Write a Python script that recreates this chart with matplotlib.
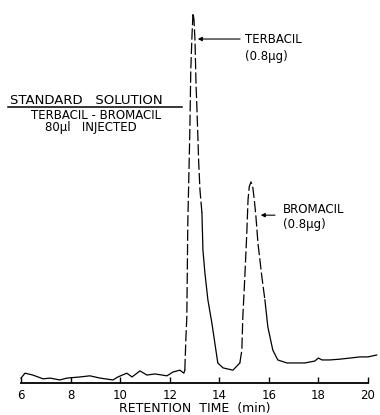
import matplotlib
matplotlib.use("Agg")
import matplotlib.pyplot as plt

# chromatogram trace: retention time (min), detector response (% of full scale)
baseline_t = [6.0, 6.16, 6.48, 6.89, 7.17, 7.57, 7.85, 8.38, 8.78, 9.19, 9.71, 9.91,
              10.27, 10.48, 10.80, 11.08, 11.40, 11.89, 12.13, 12.41, 12.57, 12.61]
baseline_r = [1.3, 2.6, 2.1, 1.1, 1.3, 0.8, 1.3, 1.6, 1.9, 1.3, 0.8, 1.6,
              2.6, 1.6, 3.2, 2.1, 2.4, 1.9, 2.9, 3.4, 2.6, 3.4]

terbacil_t = [12.61, 12.65, 12.69, 12.73, 12.81, 12.85, 12.90, 12.94, 12.98, 13.02,
              13.06, 13.10, 13.14, 13.17, 13.22, 13.30]
terbacil_r = [3.4, 11.4, 17.5, 42.3, 66.1, 82.8, 92.1, 97.9, 96.0, 90.7,
              79.4, 72.2, 64.3, 58.2, 51.1, 45.0]

valley_t = [13.30, 13.34, 13.42, 13.54, 13.70, 13.82, 13.94, 14.15, 14.55, 14.83]
valley_r = [45.0, 35.2, 29.1, 22.0, 15.9, 10.6, 5.3, 4.0, 3.4, 5.3]

bromacil_t = [14.83, 14.91, 14.95, 15.03, 15.11, 15.16, 15.21, 15.28, 15.35, 15.42,
              15.48, 15.56, 15.72, 15.84]
bromacil_r = [5.3, 8.7, 17.5, 28.0, 39.7, 48.5, 52.0, 53.2, 51.9, 48.0,
              43.9, 37.0, 28.0, 22.0]

tail_t = [15.84, 15.96, 16.16, 16.36, 16.73, 17.45, 17.85, 18.0, 18.14,
          18.46, 18.86, 19.27, 19.67, 20.0, 20.35]
tail_r = [22.0, 14.8, 8.7, 6.1, 5.3, 5.3, 5.8, 6.6, 6.1,
          6.1, 6.3, 6.6, 6.9, 6.9, 7.4]

xticks = [6, 8, 10, 12, 14, 16, 18, 20]

# peak labels: (arrow tail x, arrow head x, y)
terb_arrow = (14.95, 13.02, 91.0)
brom_arrow = (16.36, 15.56, 44.4)

fig = plt.figure(figsize=(3.8, 4.15), dpi=100, facecolor="white")
ax = fig.add_axes([21 / 380, 32 / 415, 347 / 380, 378 / 415])

lw = 0.9
ax.plot(baseline_t, baseline_r, color="black", lw=lw, clip_on=False)
ax.plot(terbacil_t, terbacil_r, color="black", lw=lw, dashes=(9, 2.5), clip_on=False)
ax.plot(valley_t, valley_r, color="black", lw=lw, clip_on=False)
ax.plot(bromacil_t, bromacil_r, color="black", lw=lw, dashes=(9, 2.5), clip_on=False)
ax.plot(tail_t, tail_r, color="black", lw=lw, clip_on=False)

ax.set_xlim(6, 20)
ax.set_ylim(0, 100)
for s in ["top", "left", "right"]:
    ax.spines[s].set_visible(False)
ax.spines["bottom"].set_linewidth(1.3)
ax.set_yticks([])
ax.set_xticks(xticks)
ax.set_xticklabels([str(v) for v in xticks], fontsize=8.5)
ax.tick_params(axis="x", direction="in", length=4, width=1, pad=4)
ax.set_xlabel("RETENTION  TIME  (min)", fontsize=9, labelpad=0)

fs = 8.5
arrow = dict(arrowstyle="-|>", color="black", lw=0.8, mutation_scale=6)
ax.annotate("", xy=(terb_arrow[1], terb_arrow[2]), xytext=(terb_arrow[0], terb_arrow[2]),
            arrowprops=arrow)
ax.text(terb_arrow[0] + 0.08, terb_arrow[2], "TERBACIL", fontsize=fs, va="center", ha="left")
ax.text(terb_arrow[0] + 0.1, terb_arrow[2] - 4.5, "(0.8\u03bcg)", fontsize=fs, va="center", ha="left")

ax.annotate("", xy=(brom_arrow[1], brom_arrow[2]), xytext=(brom_arrow[0], brom_arrow[2]),
            arrowprops=arrow, annotation_clip=False)
ax.text(brom_arrow[0] + 0.2, brom_arrow[2] + 1.5, "BROMACIL", fontsize=fs, va="center", ha="left")
ax.text(brom_arrow[0] + 0.2, brom_arrow[2] - 2.6, "(0.8\u03bcg)", fontsize=fs, va="center", ha="left")

# legend block on the left
fig.text(10 / 380, 1 - 100 / 415, "STANDARD   SOLUTION", fontsize=9.5, va="center", ha="left")
fig.add_artist(plt.Line2D([8 / 380, 182 / 380], [1 - 107 / 415, 1 - 107 / 415],
                          color="black", lw=1.1))
fig.text(96 / 380, 1 - 115.5 / 415, "TERBACIL - BROMACIL", fontsize=fs, va="center", ha="center")
fig.text(91 / 380, 1 - 127 / 415, "80\u03bcl   INJECTED", fontsize=fs, va="center", ha="center")

fig.savefig("out.png", dpi=100, facecolor="white")
